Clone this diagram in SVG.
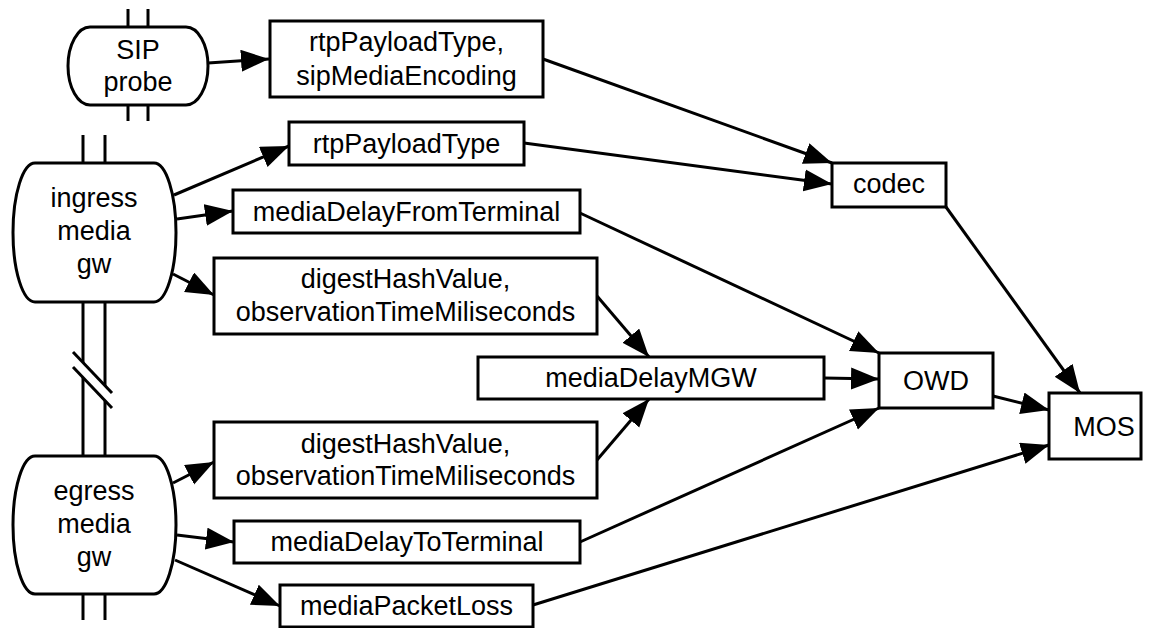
<svg xmlns="http://www.w3.org/2000/svg" width="1159" height="628" viewBox="0 0 1159 628">
<style>
.box{fill:#fff;stroke:#000;stroke-width:3}
.gw{fill:#fff;stroke:#000;stroke-width:3}
.rail{stroke:#000;stroke-width:3;fill:none}
.t{font-family:"Liberation Sans",Arial,Helvetica,sans-serif;font-size:27px;fill:#000;text-anchor:middle}
.c line{stroke:#000;stroke-width:3;marker-end:url(#arr)}
</style>
<defs>
<marker id="arr" markerUnits="userSpaceOnUse" markerWidth="30" markerHeight="24" refX="28" refY="11" orient="auto">
<path d="M0,0 L28,11 L0,22 Z" fill="#000"/>
</marker>
</defs>
<rect width="1159" height="628" fill="#fff"/>

<g id="rails">
<line class="rail" x1="128" y1="9" x2="128" y2="27"/>
<line class="rail" x1="148" y1="9" x2="148" y2="27"/>
<line class="rail" x1="128" y1="105" x2="128" y2="121"/>
<line class="rail" x1="148" y1="105" x2="148" y2="121"/>
<line class="rail" x1="83" y1="135" x2="83" y2="163"/>
<line class="rail" x1="105" y1="135" x2="105" y2="163"/>
<line class="rail" x1="83" y1="302" x2="83" y2="456"/>
<line class="rail" x1="105" y1="302" x2="105" y2="456"/>
<line class="rail" x1="83" y1="594" x2="83" y2="620"/>
<line class="rail" x1="105" y1="594" x2="105" y2="620"/>
<polygon points="73,352 112,393 112,408 73,367" fill="#fff"/>
<line class="rail" x1="73" y1="352" x2="112" y2="393"/>
<line class="rail" x1="73" y1="367" x2="112" y2="408"/>
</g>

<g id="sip">
<path class="gw" d="M90,27 H186 A22,39 0 0 1 186,105 H90 A22,39 0 0 1 90,27 Z"/>
<text class="t" x="138" y="59">SIP</text>
<text class="t" x="138" y="91">probe</text>
</g>
<g id="ingress">
<path class="gw" d="M35,163 H154 A22,69.5 0 0 1 154,302 H35 A22,69.5 0 0 1 35,163 Z"/>
<text class="t" x="94" y="207">ingress</text>
<text class="t" x="94" y="240">media</text>
<text class="t" x="94" y="273">gw</text>
</g>
<g id="egress">
<path class="gw" d="M35,456 H154 A22,69 0 0 1 154,594 H35 A22,69 0 0 1 35,456 Z"/>
<text class="t" x="94" y="500">egress</text>
<text class="t" x="94" y="533">media</text>
<text class="t" x="94" y="566">gw</text>
</g>

<g id="n_rtp_sip">
<rect class="box" x="270" y="21" width="273" height="76"/>
<text class="t" x="406.5" y="51">rtpPayloadType,</text>
<text class="t" x="406.5" y="85">sipMediaEncoding</text>
</g>
<g id="n_rtp">
<rect class="box" x="289" y="122" width="235" height="43"/>
<text class="t" x="406.5" y="153">rtpPayloadType</text>
</g>
<g id="n_mdft">
<rect class="box" x="233" y="190" width="347" height="43"/>
<text class="t" x="406.5" y="221">mediaDelayFromTerminal</text>
</g>
<g id="n_digest_in">
<rect class="box" x="214" y="258" width="383" height="76"/>
<text class="t" x="405.5" y="288">digestHashValue,</text>
<text class="t" x="405.5" y="321">observationTimeMiliseconds</text>
</g>
<g id="n_mgw">
<rect class="box" x="478" y="357" width="346" height="42"/>
<text class="t" x="651" y="387">mediaDelayMGW</text>
</g>
<g id="n_digest_eg">
<rect class="box" x="214" y="422" width="383" height="76"/>
<text class="t" x="405.5" y="453">digestHashValue,</text>
<text class="t" x="405.5" y="485">observationTimeMiliseconds</text>
</g>
<g id="n_mdtt">
<rect class="box" x="234" y="521" width="346" height="42"/>
<text class="t" x="407" y="551">mediaDelayToTerminal</text>
</g>
<g id="n_loss">
<rect class="box" x="280" y="585" width="253" height="42"/>
<text class="t" x="406.5" y="615">mediaPacketLoss</text>
</g>
<g id="n_codec">
<rect class="box" x="832" y="163" width="114" height="44"/>
<text class="t" x="889" y="193">codec</text>
</g>
<g id="n_owd">
<rect class="box" x="879" y="353" width="114" height="55"/>
<text class="t" x="936" y="390">OWD</text>
</g>
<g id="n_mos">
<rect class="box" x="1049" y="393" width="92" height="66"/>
<text class="t" x="1104" y="436">MOS</text>
</g>

<g id="connectors" class="c">
<line x1="208" y1="63" x2="269" y2="59"/>
<line x1="543" y1="59" x2="832" y2="163"/>
<line x1="524" y1="143" x2="832" y2="184"/>
<line x1="174" y1="195" x2="289" y2="146"/>
<line x1="177" y1="219" x2="233" y2="211"/>
<line x1="173" y1="274" x2="214" y2="295"/>
<line x1="580" y1="213" x2="879" y2="353"/>
<line x1="597" y1="296" x2="649" y2="357"/>
<line x1="824" y1="378" x2="879" y2="379"/>
<line x1="597" y1="460" x2="649" y2="399"/>
<line x1="173" y1="483" x2="214" y2="462"/>
<line x1="177" y1="535" x2="234" y2="542"/>
<line x1="175" y1="560" x2="280" y2="606"/>
<line x1="580" y1="542" x2="879" y2="408"/>
<line x1="533" y1="605" x2="1049" y2="445"/>
<line x1="993" y1="396" x2="1049" y2="410"/>
<line x1="946" y1="207" x2="1080" y2="393"/>
</g>
</svg>
